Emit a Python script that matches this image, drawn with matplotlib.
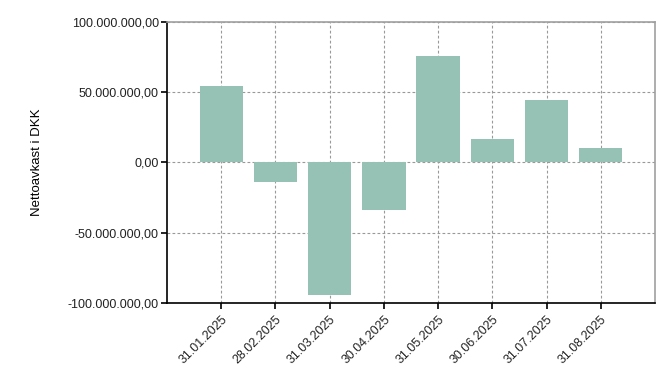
import matplotlib.pyplot as plt
from matplotlib.ticker import FuncFormatter

dates = ['31.01.2025', '28.02.2025', '31.03.2025', '30.04.2025',
         '31.05.2025', '30.06.2025', '31.07.2025', '31.08.2025']
values = [54.5e6, -14.0e6, -94.0e6, -33.5e6, 76.0e6, 16.8e6, 44.3e6, 10.4e6]
yticks = [-100e6, -50e6, 0, 50e6, 100e6]

plt.rcParams['font.family'] = ['Liberation Sans', 'DejaVu Sans']


def dk_fmt(v, pos):
    s = '{:,.2f}'.format(v)
    return s.replace(',', 'X').replace('.', ',').replace('X', '.')


fig = plt.figure(figsize=(6.66, 3.79), dpi=100)
ax = fig.add_axes([0.2508, 0.2005, 0.7327, 0.7415])

x = list(range(len(dates)))
ax.bar(x, values, width=0.8, color='#96c2b6', zorder=3)

ax.set_xlim(-1, len(dates))
ax.set_ylim(-100e6, 100e6)
ax.set_yticks(yticks)
ax.yaxis.set_major_formatter(FuncFormatter(dk_fmt))
ax.set_xticks(x)
ax.set_xticklabels(dates, rotation=45, ha='right', rotation_mode='anchor')

ax.grid(True, linestyle=(0, (2.5, 2)), color='#999999', linewidth=0.8, zorder=0)
ax.tick_params(axis='both', labelsize=9, length=4, width=1.2, colors='black', labelcolor='#222222')
ax.tick_params(axis='y', pad=2)

for side in ['left', 'bottom']:
    ax.spines[side].set_color('black')
    ax.spines[side].set_linewidth(1.2)
for side in ['top', 'right']:
    ax.spines[side].set_color('#a0a0a0')
    ax.spines[side].set_linewidth(1.2)

ax.set_ylabel('Nettoavkast i DKK', fontsize=9.5, labelpad=18)

fig.savefig('out.png', dpi=100)
